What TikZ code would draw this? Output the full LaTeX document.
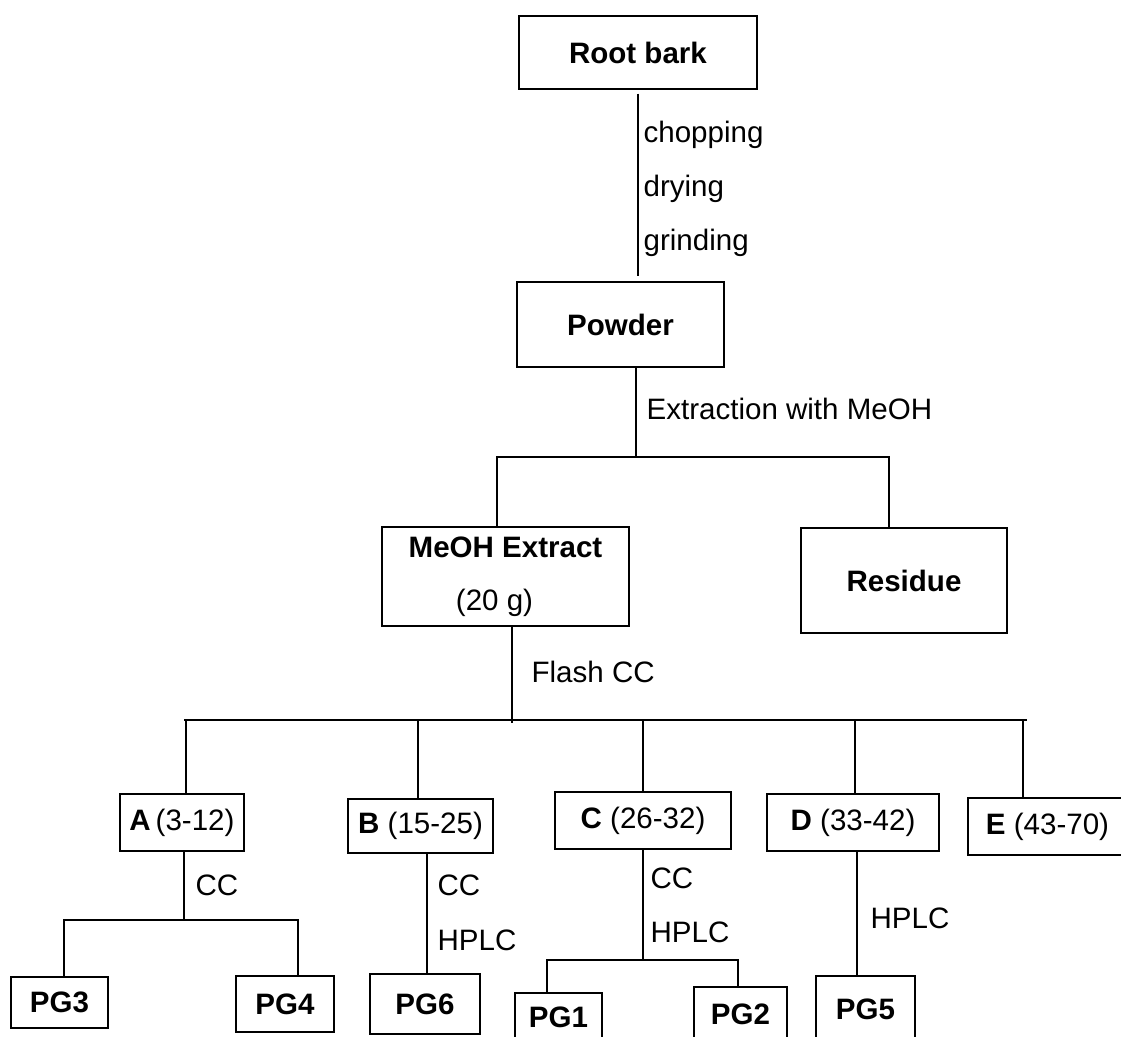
\documentclass[tikz,border=0pt]{standalone}
\usepackage{fontspec}
\setmainfont{Liberation Sans}
\usetikzlibrary{positioning}

\begin{document}
\begin{tikzpicture}[x=0.025cm,y=-0.025cm,line width=0.9pt,
  every node/.style={font=\fontsize{21}{25}\selectfont},
  box/.style 2 args={draw,inner sep=0pt,minimum width=#1*0.025cm,minimum height=#2*0.025cm},
  note/.style={anchor=base west,inner sep=0pt}]
\useasboundingbox (0,0) rectangle (1121,1037);

% plant material
\node[box={238}{73}] (root) at (638,52.5) {\textbf{Root bark}};
\node[box={207}{85}] (powder) at (620.5,324.5) {\textbf{Powder}};
\node[box={247}{99},align=center] (extract) at (505.5,576.5)
  {\textbf{MeOH Extract}\\[13pt](20 g)\hspace*{0.55cm}};
\node[box={206}{105}] (residue) at (904,580.5) {\textbf{Residue}};

% fractions
\node[box={124}{57}] (a) at (182,822.5) {\textbf{A}\,(3-12)};
\node[box={145}{54}] (b) at (420.5,826) {\textbf{B} (15-25)};
\node[box={176}{57}] (c) at (643,820.5) {\textbf{C} (26-32)};
\node[box={172}{57}] (d) at (853,822.5) {\textbf{D} (33-42)};
\node[box={159}{57}] (e) at (1047.5,826.5) {\textbf{E} (43-70)};

% compounds
\node[box={97}{51}] (pg3) at (59.5,1002.5) {\textbf{PG3}};
\node[box={98}{56}] (pg4) at (285,1004) {\textbf{PG4}};
\node[box={110}{60}] (pg6) at (425,1004) {\textbf{PG6}};
\node[box={87}{49}] (pg1) at (558.5,1017.5) {\textbf{PG1}};
\node[box={93}{55}] (pg2) at (740.5,1014.5) {\textbf{PG2}};
\node[box={99}{67}] (pg5) at (865.5,1009.5) {\textbf{PG5}};

% root bark -> powder
\draw[shorten <=0.1cm,shorten >=0.125cm] (root.south) -- (root.south |- powder.north);
\node[note] (chop) at (643,143) {chopping};
\node[note] (dry) at (643,197) {drying};
\node[note] (grind) at (643,251) {grinding};

% extraction
\coordinate (j1) at (636,457);
\coordinate (l1) at (497,457);
\coordinate (r1) at (889,457);
\draw (powder.south -| j1) -- (j1);
\draw (l1 |- extract.north) -- (l1) -- (r1) -- (r1 |- residue.north);
\node[note] (extr) at (646,420) {Extraction with MeOH};

% flash column
\coordinate (j2) at (512,723);
\coordinate (l2) at (184,720);
\coordinate (r2) at (1027,720);
\draw (extract.south -| j2) -- (j2);
\draw (l2) -- (r2);
\foreach \n/\x in {a/186,b/418,c/643,d/855,e/1023}{
  \coordinate (t-\n) at (\x,720);
  \draw (t-\n) -- (t-\n |- \n.north);
}
\node[note] (flash) at (531,682) {Flash CC};

% fraction A
\coordinate (ja) at (184,920);
\coordinate (l3) at (64,920);
\coordinate (r3) at (298,920);
\draw (a.south -| ja) -- (ja);
\draw (l3 |- pg3.north) -- (l3) -- (r3) -- (r3 |- pg4.north);
\node[note] (cca) at (195,895) {CC};

% fraction B
\coordinate (jb) at (427,900);
\draw (b.south -| jb) -- (pg6.north -| jb);
\node[note] (ccb) at (437,895) {CC};
\node[note] (hpb) at (437,950) {HPLC};

% fraction C
\coordinate (jc) at (643,960);
\coordinate (l4) at (547,960);
\coordinate (r4) at (738,960);
\draw (c.south -| jc) -- (jc);
\draw (l4 |- pg1.north) -- (l4) -- (r4) -- (r4 |- pg2.north);
\node[note] (ccc) at (650,888) {CC};
\node[note] (hpc) at (650,942) {HPLC};

% fraction D
\coordinate (jd) at (857,900);
\draw (d.south -| jd) -- (pg5.north -| jd);
\node[note] (hpd) at (870,928) {HPLC};
\end{tikzpicture}
\end{document}
